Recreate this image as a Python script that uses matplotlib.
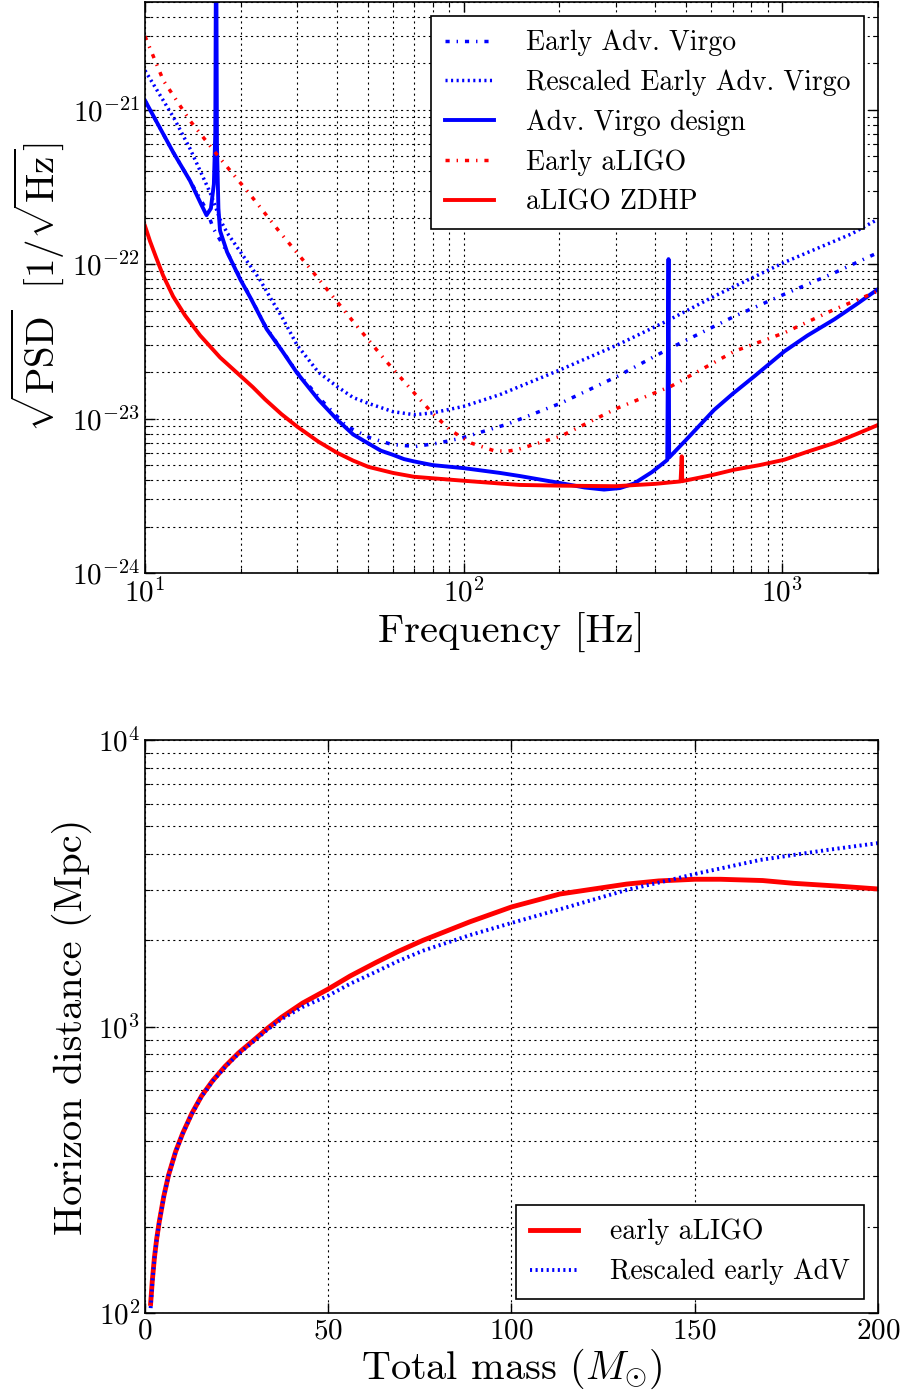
import numpy as np
import matplotlib
matplotlib.use("Agg")
import matplotlib.pyplot as plt

# classic-looking style: Computer Modern text, unscaled dash patterns
plt.rcParams['font.family'] = 'serif'
plt.rcParams['font.serif'] = ['cmr10']
plt.rcParams['mathtext.fontset'] = 'cm'
plt.rcParams['axes.formatter.use_mathtext'] = True
plt.rcParams['axes.unicode_minus'] = False
plt.rcParams['lines.scale_dashes'] = False
plt.rcParams['lines.dotted_pattern'] = [1.5, 2.5]
plt.rcParams['lines.dashdot_pattern'] = [3, 5, 1, 5]

# ---- top panel: amplitude spectral densities (1/sqrt(Hz)) ----
f_eadv = [10, 12.27, 13.85, 15.6, 16.4, 18.1, 20, 24, 30, 36, 43, 51, 59.6, 70.7,
          83.6, 98.9, 137, 202, 304, 436, 708, 1017, 1459, 2000]
asd_eadv = [1.15e-21, 5.3e-22, 3.47e-22, 2.25e-22, 1.7e-22, 1.2e-22, 8.0e-23, 3.9e-23,
            2.0e-23, 1.3e-23, 8.9e-24, 7.5e-24, 6.8e-24, 6.6e-24, 6.95e-24, 7.5e-24,
            9.2e-24, 1.26e-23, 1.88e-23, 2.8e-23, 4.6e-23, 6.4e-23, 8.8e-23, 1.19e-22]

f_resc = [10, 12.27, 13.85, 16.0, 16.6, 17.2, 18.1, 20, 22.9, 24.7, 27, 30, 35, 40, 45,
          50, 55, 60, 70, 80, 100, 130, 202, 304, 436, 612, 700, 1017, 1648, 2000]
asd_resc = [1.8e-21, 9.0e-22, 5.6e-22, 2.92e-22, 2.4e-22, 1.95e-22, 1.6e-22, 1.19e-22,
            8.0e-23, 6.1e-23, 4.5e-23, 3.0e-23, 2.0e-23, 1.62e-23, 1.37e-23, 1.26e-23,
            1.18e-23, 1.11e-23, 1.06e-23, 1.09e-23, 1.2e-23, 1.43e-23, 2.08e-23, 3.0e-23,
            4.3e-23, 6.2e-23, 7.1e-23, 1.03e-22, 1.57e-22, 1.96e-22]

f_avdes = [10, 12.27, 13.85, 15.0, 15.6, 16.1, 16.45, 16.62, 16.72, 16.82, 17.0, 17.2,
           18.1, 19.9, 21.4, 22.5, 24.1, 27, 30, 35, 40, 45, 50, 55, 60, 65, 70, 80, 100,
           130, 150, 202, 240, 276, 310, 343, 390, 436, 440, 442, 500, 612, 700, 818,
           1017, 1200, 1459, 1700, 2000]
asd_avdes = [1.15e-21, 5.3e-22, 3.47e-22, 2.45e-22, 2.08e-22, 2.3e-22, 3.3e-22, 7e-22,
             2e-20, 6e-22, 2.3e-22, 1.65e-22, 1.2e-22, 8.0e-23, 6.1e-23, 5.0e-23, 3.8e-23,
             2.73e-23, 1.98e-23, 1.33e-23, 9.9e-24, 7.9e-24, 6.95e-24, 6.2e-24, 5.83e-24,
             5.47e-24, 5.28e-24, 5.0e-24, 4.78e-24, 4.45e-24, 4.25e-24, 3.82e-24, 3.58e-24,
             3.47e-24, 3.55e-24, 3.8e-24, 4.5e-24, 5.4e-24, 1.08e-22, 5.6e-24, 7.3e-24,
             1.14e-23, 1.45e-23, 1.88e-23, 2.73e-23, 3.45e-23, 4.4e-23, 5.45e-23, 6.9e-23]

f_ealigo = [10, 11.42, 13.85, 17.09, 21.4, 26.4, 33, 36.6, 45.7, 56.9, 71.4, 80, 91, 105.6,
            124.5, 137, 147.5, 202, 304, 448, 708, 1017, 1459, 2000]
asd_ealigo = [3.0e-21, 1.55e-21, 8.5e-22, 4.93e-22, 2.82e-22, 1.63e-22, 9.37e-23, 7.2e-23,
              4.1e-23, 2.38e-23, 1.40e-23, 1.08e-23, 8.4e-24, 6.95e-24, 6.2e-24, 6.15e-24,
              6.3e-24, 7.7e-24, 1.17e-23, 1.62e-23, 2.73e-23, 3.6e-23, 5.1e-23, 6.7e-23]

f_zdhp = [10, 10.37, 10.83, 11.39, 12.25, 13.36, 14.89, 17.21, 19.89, 21.8, 23.85, 26.8,
          30.06, 35, 40.16, 45, 50.27, 60, 70, 100, 130, 150, 200, 300, 400, 480, 484, 486,
          490, 600, 708, 850, 1017, 1200, 1459, 1700, 2000]
asd_zdhp = [1.77e-22, 1.41e-22, 1.11e-22, 8.49e-23, 6.2e-23, 4.66e-23, 3.46e-23, 2.49e-23,
            1.9e-23, 1.6e-23, 1.33e-23, 1.07e-23, 8.87e-24, 7.1e-24, 6.0e-24, 5.35e-24,
            4.87e-24, 4.45e-24, 4.2e-24, 3.96e-24, 3.8e-24, 3.72e-24, 3.68e-24, 3.65e-24,
            3.78e-24, 3.92e-24, 5.7e-24, 3.93e-24, 3.95e-24, 4.3e-24, 4.67e-24, 5.0e-24,
            5.42e-24, 6.1e-24, 6.95e-24, 7.9e-24, 9.1e-24]

# ---- bottom panel: horizon distance (Mpc) vs total mass ----
mass_aligo = [1.54, 2.0, 2.57, 3.2, 3.86, 5.14, 6.43, 8.36, 10.29, 12.8, 15.43, 18.5, 21.86,
              25.5, 29.58, 33.4, 37.3, 43, 49.9, 56, 63.0, 69, 75.9, 88.7, 100.1, 113.2,
              131.4, 140.2, 150, 157, 168.5, 176.9, 189.1, 200]
dist_aligo = [108, 130, 156, 182, 207, 256, 303, 366, 424, 498, 572, 648, 726, 808, 894,
              985, 1078, 1207, 1349, 1501, 1672, 1826, 2000, 2321, 2616, 2900, 3141, 3222,
              3265, 3265, 3232, 3161, 3090, 3020]

mass_adv = [1.54, 2.0, 2.57, 3.2, 3.86, 5.14, 6.43, 8.36, 10.29, 12.8, 15.43, 18.5, 21.86,
            25.5, 29.58, 33.4, 37.3, 43, 49.9, 56, 63.0, 69, 75.9, 88.7, 100.1, 114.1,
            131.4, 143.2, 150, 167.8, 186, 200]
dist_adv = [104, 128, 155, 181, 206, 255, 302, 365, 423, 496, 570, 645, 722, 803, 886, 975,
            1062, 1170, 1279, 1410, 1552, 1690, 1840, 2085, 2300, 2585, 2995, 3245, 3406,
            3813, 4130, 4366]

fig = plt.figure(figsize=(9.01, 13.90), dpi=100)
W, H = 901.0, 1390.0
ax1 = fig.add_axes([145 / W, 1 - 573 / H, 733 / W, 571 / H])
ax2 = fig.add_axes([145 / W, 1 - 1313 / H, 733 / W, 573 / H])

ax1.loglog(f_eadv, asd_eadv, color='blue', linestyle='-.', lw=2.5, label='Early Adv. Virgo')
ax1.loglog(f_resc, asd_resc, color='blue', linestyle=':', lw=2.5, label='Rescaled Early Adv. Virgo')
ax1.loglog(f_avdes, asd_avdes, color='blue', linestyle='-', lw=2.8, label='Adv. Virgo design')
ax1.loglog(f_ealigo, asd_ealigo, color='red', linestyle='-.', lw=2.5, label='Early aLIGO')
ax1.loglog(f_zdhp, asd_zdhp, color='red', linestyle='-', lw=2.8, label='aLIGO ZDHP')
ax1.set_xlim(10, 2000)
ax1.set_ylim(1e-24, 5e-21)
ax1.set_xlabel('Frequency [Hz]', fontsize=29)
ax1.set_ylabel(r'$\sqrt{\mathrm{PSD}}\ \ [1/\sqrt{\mathrm{Hz}}]$', fontsize=28)
leg1 = ax1.legend(loc='upper right', fontsize=20, fancybox=False, framealpha=1,
                  handlelength=1.75, handletextpad=1.15, borderpad=0.5, labelspacing=0.48)
leg1.get_frame().set_edgecolor('black')
leg1.get_frame().set_linewidth(1.2)

ax2.semilogy(mass_aligo, dist_aligo, color='red', linestyle='-', lw=3.5, label='early aLIGO')
ax2.semilogy(mass_adv, dist_adv, color='blue', linestyle=':', lw=2.8, label='Rescaled early AdV')
ax2.set_xlim(0, 200)
ax2.set_ylim(100, 1e4)
ax2.set_xticks([0, 50, 100, 150, 200])
ax2.set_xlabel(r'Total mass ($M_{\odot}$)', fontsize=29, labelpad=2)
ax2.set_ylabel('Horizon distance (Mpc)', fontsize=29)
leg2 = ax2.legend(loc='lower right', fontsize=20, fancybox=False, framealpha=1,
                  handlelength=1.75, handletextpad=1.15, borderpad=0.5, labelspacing=0.48)
leg2.get_frame().set_edgecolor('black')
leg2.get_frame().set_linewidth(1.2)

for ax in (ax1, ax2):
    ax.grid(True, which='major', color='k', linestyle=':', lw=0.8)
    ax.tick_params(which='both', direction='in', top=True, right=True, labelsize=21)
    ax.tick_params(which='major', length=7, width=1)
    ax.tick_params(which='minor', length=3.5, width=0.8)
    for sp in ax.spines.values():
        sp.set_linewidth(1.2)
ax1.grid(True, which='minor', color='k', linestyle=':', lw=0.8)
ax2.yaxis.grid(True, which='minor', color='k', linestyle=':', lw=0.8)

fig.savefig('out.png', dpi=100)
